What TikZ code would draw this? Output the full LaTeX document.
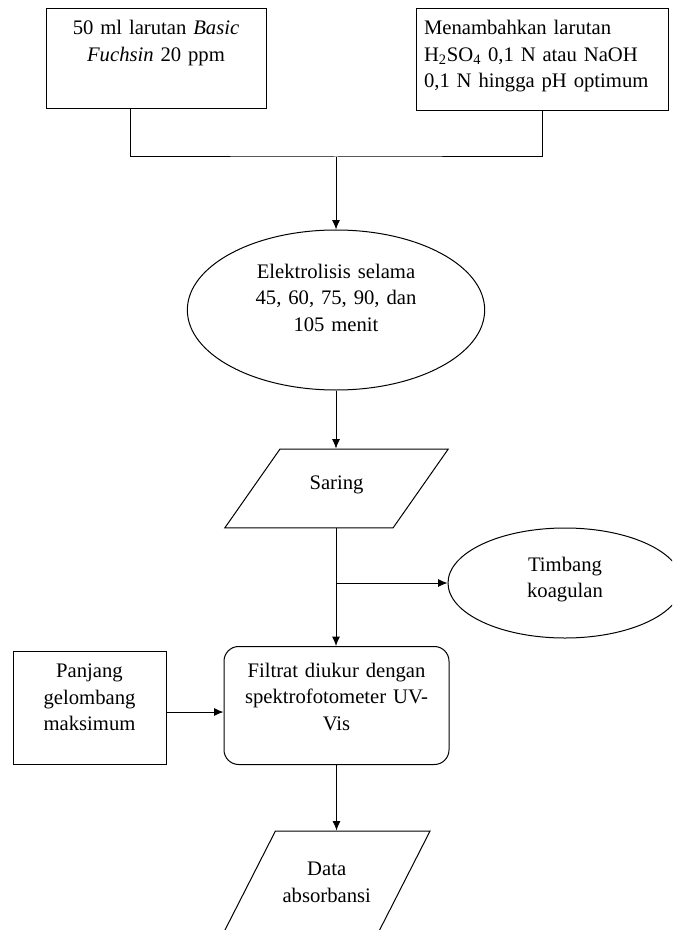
\documentclass[tikz,border=0pt]{standalone}
\usepackage{fontspec}
\setmainfont{Liberation Serif}
\usetikzlibrary{shapes.geometric,arrows.meta,positioning}

\begin{document}
\begin{tikzpicture}[x=0.75pt,y=-0.75pt,line width=0.75pt,
	>={Latex[length=7pt,width=6pt]},
	font=\fontsize{15.5}{20}\selectfont,
	box/.style={draw,rectangle,inner sep=0pt,align=center},
	oval/.style={draw,ellipse,inner sep=0pt,align=center,text height=11pt},
	slant/.style={draw,trapezium,inner sep=0pt,align=center}]
	\useasboundingbox (0,0) rectangle (672,930);
	\clip (0,0) rectangle (672,930);
	% inputs
	\node[box,anchor=north,text width=165pt,text height=19.5pt,text depth=55.5pt] (fuchsin) at (156,8) {50 ml larutan \emph{Basic}\\ \emph{Fuchsin} 20 ppm};
	\node[box,anchor=north,align=left,inner xsep=6pt,text width=177pt,text height=19.5pt,text depth=57pt] (menambah) at (542,8) {Menambahkan larutan\\ H\textsubscript{2}SO\textsubscript{4} 0,1 N atau NaOH\\ 0,1 N hingga pH optimum};
	\coordinate (join) at (336,157);
	% process
	\node[oval,minimum width=223pt,minimum height=120pt,text width=130pt,text depth=59pt] (elektro) at (336,310) {Elektrolisis selama\\ 45, 60, 75, 90, dan\\ 105 menit};
	\node[slant,trapezium left angle=55,trapezium right angle=125,text width=84.75pt,text height=30.6pt,text depth=28.6pt] (saring) at (336.5,488.5) {Saring};
	\coordinate (split) at (336,583);
	\node[oval,minimum width=175.5pt,minimum height=82.5pt,text width=90pt,text depth=29pt] (timbang) at (565,583) {Timbang\\ koagulan};
	\node[box,rounded corners=11pt,anchor=north,text width=168.75pt,text height=23pt,text depth=65.5pt] (filtrat) at (336.5,646) {Filtrat diukur dengan\\ spektrofotometer UV-\\ Vis};
	\node[box,anchor=north,text width=114.75pt,text height=19.5pt,text depth=65.25pt] (panjang) at (89.5,651) {Panjang\\ gelombang\\ maksimum};
	\node[slant,trapezium left angle=63,trapezium right angle=117,text width=77pt,text height=33.25pt,text depth=43.25pt] (data) at (326.75,882) {Data\\ absorbansi};
	% connectors
	\draw ([xshift=-19.5pt]fuchsin.south) |- (join) -| (menambah.south);
	\draw[->] (join) -- (join |- elektro.north);
	\draw[->] (elektro.south) -- (elektro.south |- saring.north);
	\draw[->] (saring.south -| split) -- (split |- filtrat.north);
	\draw[->] (split) -- (split -| timbang.west);
	\draw[->] (panjang.east |- 0,712) -- (filtrat.west |- 0,712);
	\draw[->] (filtrat.south) -- (filtrat.south |- data.north);
\end{tikzpicture}
\end{document}
